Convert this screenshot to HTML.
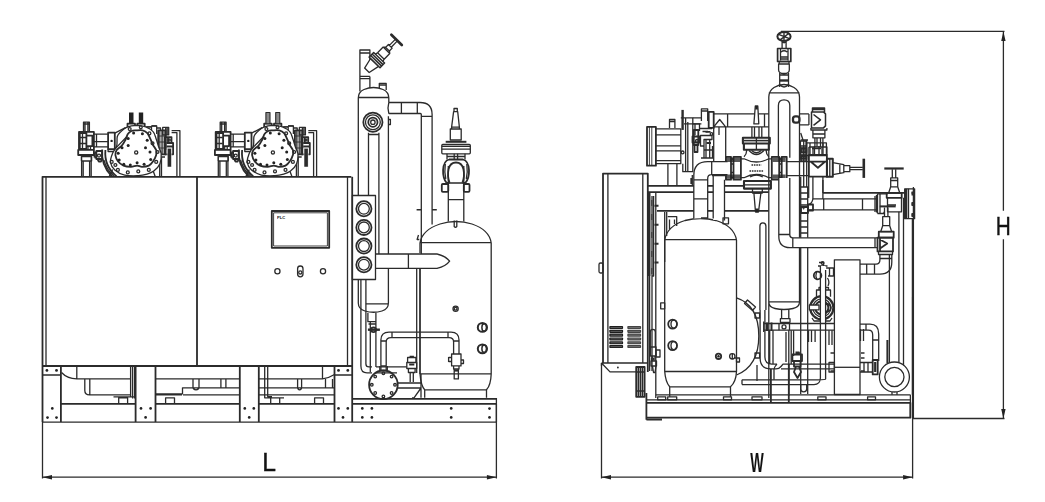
<!DOCTYPE html>
<html><head><meta charset="utf-8"><title>Unit dimensions</title>
<style>
html,body{margin:0;padding:0;background:#fff;}
svg{display:block}
.k{fill:none;stroke:#2b2b2b;stroke-width:1.3;stroke-linecap:butt;stroke-linejoin:round}
.t{stroke-width:1.8}
.h{stroke-width:0.9}
.f{fill:#222;stroke:none}
.w{fill:#fff}
text{font-family:"Liberation Sans",sans-serif;fill:#111}
</style></head><body>
<svg width="1045" height="502" viewBox="0 0 1045 502">
<rect width="1045" height="502" fill="#fff"/>
<g class="k" id="leftview">
<!-- cabinet -->
<path class="t" d="M42.5 422V176.8H351.3"/>
<path d="M46 176.8V366M347.5 176.8V366"/>
<path class="t" d="M197 176.8V366M42.5 366H352"/>
<path class="t" d="M352.2 176.8V422"/>
<!-- HMI -->
<rect x="271.8" y="211" width="57.4" height="36.8" class="t"/>
<rect x="273.6" y="212.8" width="53.8" height="33.2" class="h"/>
<text opacity="0.99" x="277" y="219" font-size="4.2" font-weight="bold" stroke="none" textLength="8.2" lengthAdjust="spacingAndGlyphs">PLC</text>
<circle cx="277.4" cy="271.2" r="2.6"/><circle cx="323" cy="271.2" r="2.6"/>
<rect x="297.6" y="266" width="5.4" height="10.8" rx="2.7"/><circle cx="300.3" cy="272.4" r="1.6"/>
<!-- base frame -->
<path d="M42.5 422.1H496.4"/>
<path class="t" d="M60.9 366V422M60.9 403.8H135.6M135.6 366V422M155.5 366V422M155.5 403.8H239.8M239.8 366V422M258.8 366V422M258.8 403.8H334.5M334.5 366V422"/>
<path d="M42.5 375H60.9M334.5 375H352"/>
<g class="f">
<circle cx="46.9" cy="370.4" r="1.4"/><circle cx="56.5" cy="370.4" r="1.4"/>
<circle cx="52.3" cy="408.4" r="1.35"/><circle cx="47.5" cy="417.6" r="1.35"/><circle cx="56.5" cy="417.6" r="1.35"/>
<circle cx="141" cy="408.4" r="1.35"/><circle cx="150.6" cy="408.4" r="1.35"/><circle cx="145.6" cy="417.4" r="1.35"/>
<circle cx="244.8" cy="408.4" r="1.35"/><circle cx="253.8" cy="408.4" r="1.35"/><circle cx="249.2" cy="417.4" r="1.35"/>
<circle cx="338.5" cy="370.4" r="1.4"/><circle cx="347.8" cy="370.4" r="1.4"/>
<circle cx="338.5" cy="408.4" r="1.35"/><circle cx="347.8" cy="408.4" r="1.35"/><circle cx="343" cy="417.4" r="1.35"/>
<circle cx="362.3" cy="408.4" r="1.35"/><circle cx="371.9" cy="408.4" r="1.35"/><circle cx="362.3" cy="417.4" r="1.35"/><circle cx="371.9" cy="417.4" r="1.35"/>
<circle cx="451.2" cy="408.4" r="1.35"/><circle cx="451.2" cy="417.4" r="1.35"/>
<circle cx="489.5" cy="408.6" r="1.35"/><circle cx="489.5" cy="417.4" r="1.35"/>
</g>
<!-- bay 1 -->
<path d="M61.5 372.5Q67 378.5 76.8 378.9H130.6M76.8 366V378.9M84.8 379.5V390.5Q84.8 394.8 89.5 394.8H130M89.8 379.5V394.8M130.6 366V397M132.6 366V398.5M134.6 366V398.5M113.5 396.8H134.6M118.7 403.4V397.8H127.6V403.4"/>
<!-- bay 2 -->
<path d="M155.5 378.9H239.8M155.5 393.8H182.5V387.8H239.8M155.5 394.8H182M165.6 403.4V397.8H174.5V403.4M193 379.5V387Q193 389.8 196 389.8Q199 389.8 199 387V379.5M220.9 378.9V387.8M225.9 378.9V387.8M183 394.8H239.8"/>
<!-- bay 3 -->
<path d="M258.8 378.9H322.5M258.8 387.8H334.5M258.8 394.8H334.5M264.7 366V397.8H284M267.7 366V396.6H272M297.6 379.5V387Q297.6 389.8 299.6 389.8Q301.6 389.8 301.6 387V379.5M270.7 403.4V397.8H279.7V403.4M314.6 403.4V397.8H323.5V403.4M322.5 366V378.9Q329 378 334.5 374.5M325.5 378.9V387.8M332.5 378.9V387.8"/>
<!-- right rail -->
<path class="t" d="M352.2 398.8H496.4M352.2 403.8H496.4"/>
<path d="M496.4 398V422"/>
<!-- gauge panel -->
<rect x="352.4" y="195.5" width="23.1" height="84"/>
<g id="gauges">
<circle cx="363.9" cy="208.8" r="7.6" class="t"/><circle cx="363.9" cy="208.8" r="5.4"/>
<circle cx="363.9" cy="227.4" r="7.6" class="t"/><circle cx="363.9" cy="227.4" r="5.4"/>
<circle cx="363.9" cy="246.1" r="7.6" class="t"/><circle cx="363.9" cy="246.1" r="5.4"/>
<circle cx="363.9" cy="264.7" r="7.6" class="t"/><circle cx="363.9" cy="264.7" r="5.4"/>
</g>
<!-- oil separator column -->
<path d="M358.3 195.5V98Q358.3 92 364 89.5Q373.5 85.5 383 89.5Q388.8 92 388.8 98V102.5M388.4 116.3V254M388.4 268.3V303Q388.4 309 382 311Q373.5 313.5 365 311Q358.3 309 358.3 303V279.5M358.3 97.5H388.8M365.9 303.8H388.4"/>
<path d="M368.5 132.8V195.5M378.9 132.8V254M368.5 134.5H378.9"/>
<!-- sight glass -->
<circle cx="372.9" cy="122.2" r="9.6" class="t"/><circle cx="372.9" cy="122.2" r="7.4"/><circle cx="372.9" cy="122.2" r="4.6" class="t"/><circle cx="372.9" cy="122.2" r="2.2"/>
<path d="M388.8 119.5h1.6v5h-1.6"/>
<!-- top pipe -->
<path d="M359.9 91.5V50H369.9V66M369.9 76.4V88M359.9 53H369.9M359.9 76.4H369.9M359.9 78.6H369.9M379.3 88V83.4H386.2V90M379.3 85H386.2"/>
<!-- angled valve -->
<g transform="translate(366.9 70.3) rotate(-45.7)">
<path d="M0 -3.2L11 -5.6V5.6L0 3.2Z" class="w"/>
<path d="M11 -7.6H17.5V7.6H11ZM13.2 -7.6V7.6M15.3 -7.6V7.6" class="w" stroke-width="1.5"/>
<path d="M17.5 -5.2L20 -4.6H28L29.5 -2.8V2.8L28 4.6H20L17.5 5.2M20 -4.6V4.6M28 -4.6V4.6M29.5 -2.6H33.5V2.6H29.5M33.5 -1.3H42M33.5 1.3H42"/>
<path d="M42.5 -7.3V7.3" stroke-width="2.7" stroke-linecap="round"/>
</g>
<!-- horizontal pipe + elbow -->
<path d="M388.8 102.5H420Q432.1 102.5 432.1 114.5V224.5M388.8 113.5H420.3Q421.3 113.5 421.3 114.5V254M401.4 102.5V113.5M417.3 102.5V113.5M421.3 116.3H432.1M388.8 102.5Q387.2 108 388.8 113.5"/>
<path d="M416.6 209.8H421.3M432.1 209.8H436.8" stroke-width="1.6"/>
<!-- pointed pipe -->
<path d="M375.5 254H408.4M375.5 268.3H408.4M408.4 254V268.3M408.4 254H437Q446 256 449.6 261.2Q446 266.3 437 268.3H408.4"/>
<!-- receiver tank -->
<path d="M420 253V243Q422 230 440 224Q456 219 472 224Q489.5 230 491.2 243V373.9Q490.8 385 486.5 389.8V397.8M424.7 397.8V389.8Q421 386 420 373.9V268.3M420 242.7H491.2M420 373.9H491.2M424.7 389.8H486.5"/>
<path d="M416.7 268.3V372.9M420 268.3V373.9"/>
<path d="M418.5 235l-1.4 4.5h2.2"/>
<circle cx="455.6" cy="308.8" r="2.6"/><circle cx="455.6" cy="308.8" r="1.4"/>
<ellipse cx="482.4" cy="327.4" rx="4.6" ry="4.4" stroke-width="2"/><ellipse cx="484.2" cy="327.4" rx="2.3" ry="3.7" stroke-width="1.5"/>
<ellipse cx="482.4" cy="348.8" rx="4.6" ry="4.4" stroke-width="2"/><ellipse cx="484.2" cy="348.8" rx="2.3" ry="3.7" stroke-width="1.5"/>
<!-- safety valve on tank -->
<path d="M454 111.6V108.5H457.3V111.6M453.6 111.6H457.7L459.4 127.2H451.6ZM450.3 129H461.2V140H450.3ZM451.6 127.2V129M459.4 127.2V129"/>
<path d="M445.7 141.8H466.4" stroke-width="2"/>
<rect x="441.8" y="144.5" width="28.5" height="9.3" rx="1"/>
<path d="M441.8 149.1H470.3M441.8 146.3H470.3" />
<path d="M447 153.8V159.5M465 153.8V159.5M454.2 153.8V160M457.6 153.8V160M447 156.5H465"/>
<path d="M449 159.5H463Q468.5 161 469 170Q469.3 178 465.5 182.8H462.5M446.5 182.8Q442.8 178 443.1 170Q443.6 161 449 159.5M449.6 182.8Q447 176 448.6 169Q450.2 162.5 456 162.5Q461.8 162.5 463.4 169Q465 176 462.4 182.8M446.5 182.8H449.6" class="t"/>
<path d="M445.3 164Q444.2 172 445.8 179M466.8 164Q467.9 172 466.3 179"/>
<rect x="441.8" y="184" width="6.5" height="7.8" rx="1" class="t"/><rect x="463.8" y="184" width="5.7" height="7.8" rx="1" class="t"/>
<path d="M448.3 166V221.5M463.8 166V221.5M448.3 183H463.8M448.3 199.6H463.8"/>
<path d="M454.2 220.5V226.5Q455.5 228 456.8 226.5V220.5"/>
<!-- lower piping -->
<path d="M360.9 279.5V366Q360.9 372.9 367 372.9H372M365.9 279.5V364Q365.9 366.9 369 366.9H372"/>
<path d="M367.9 312.8V321.7H375.9V312.8M370.3 321.7V372M375.9 321.7V366.9M368.5 324H375.5"/>
<path d="M367.9 329.7H379.9" stroke-width="2.4"/><circle cx="373.5" cy="329.7" r="2.4" class="t"/>
<path d="M380.9 369.9V340Q380.9 332.1 389 332.1H451Q459 332.1 459 340V354M386.2 369.9V342Q386.2 337.7 391 337.7H449Q453.6 337.7 453.6 342V354M392 332.1V337.7M448 332.1V337.7M380.9 341H386.2M453.6 341H459M380.9 366H386.2"/>
<path d="M379.8 366V370.5H387.3V366"/>
<path d="M376 366.9H406.8M376 372.9H397"/>
<!-- filter flange -->
<circle cx="383.4" cy="384.8" r="14.3" class="t"/>
<g><circle cx="383.4" cy="373.2" r="1.3"/><circle cx="391.6" cy="376.6" r="1.3"/><circle cx="395.0" cy="384.8" r="1.3"/><circle cx="391.6" cy="393.0" r="1.3"/><circle cx="383.4" cy="396.4" r="1.3"/><circle cx="375.2" cy="393.0" r="1.3"/><circle cx="371.8" cy="384.8" r="1.3"/><circle cx="375.2" cy="376.6" r="1.3"/></g>
<path d="M397.6 383H421V388L414 397.8H412M397.6 388H421M421 373.9V397.8"/>
<!-- solenoid valve -->
<path d="M407.6 357.5H415.9V362.5H407.6ZM406.8 362.5H416.7V368.5H406.8ZM408.4 368.5V372.5H415.1V368.5M410.2 372.5V381.9M413.3 372.5V381.9M409.6 356.3H413.9"/>
<path d="M409.2 364.5H414.3" stroke-width="2"/>
<!-- right leg valve -->
<path d="M451.6 354H461V365.9H451.6ZM448.6 357.5H451.6M448.6 361.5H451.6M448.6 357V362M461 360H463.5V363.5H461M453.6 365.9V369H459V365.9M454.2 369V378.9H458.4V369"/>
<path d="M454 370.5H458.6" stroke-width="2.2"/>
<!--COMP-START-->
<g id="comp">
<!-- big flange arcs lower-left -->
<path d="M102.2 149.5A33.6 33.6 0 0 0 111.9 176.4M105.4 150A30.4 30.4 0 0 0 116.6 176.4" class="t"/>
<path d="M103.9 160A31.9 31.9 0 0 0 114.2 176.4"/>
<!-- feet -->
<path d="M112.6 169.5L109.3 176.4M153.1 170.8L155.2 176.4"/>
<!-- top studs -->
<path d="M127.5 123.7H135V127H127.5ZM137.3 123.7H144.7V127H137.3Z" class="t"/>
<!-- left suction valve assembly -->
<path d="M83.5 131.9V122.2H89.4V131.9M85 122.2V131.9M87.9 122.2V131.9M83.5 124H89.4"/>
<path d="M79 131.9H93.9V149.8H79ZM78.2 149.8H93.9V155H78.2Z" class="t"/>
<path class="t" d="M86.4 135.6H92.4V146.1H86.4ZM79.8 133H86.4V149H79.8Z"/>
<path d="M80 137.5H86M80 143.5H86M82.5 133V149M88 146.1V149.8M90.5 146.1V149.8"/>
<path d="M81.6 155V176.4M91.2 155V176.4M83.2 161V176.4M89.6 161V176.4M81.4 156.5H91.6V161H81.4Z"/>
<path d="M93.9 134.1H108.1M93.9 146.9H108.1M93.9 141.6H108.1M96.5 134.1V146.9"/>
<path class="t" d="M108.1 132.7H114.8V149.1H108.1Z"/>
<circle cx="111.6" cy="140.9" r="1.2" class="f"/>
<path d="M96.4 151H102V159H96.4ZM97.5 159L98.8 161.5H101L102 159M94.5 152.5H96.4M94.5 157.5H96.4M94.5 152.5V157.5" class="t"/>
<circle cx="99" cy="155.6" r="1.5"/>
<path d="M108.1 149.1V151.5H115.5"/>
<!-- right side fittings -->
<path d="M151.5 125.9H156.7V134M146 126.9H151.5M156.7 128H160.5V131"/>
<path d="M158.2 130.4H165.7V154.3H158.2Z" class="t"/>
<path d="M159.7 131V154M161.2 131V154M162.7 131V154M164.2 131V154M158.2 136H165.7M158.2 142H165.7M158.2 148H165.7" class="h"/>
<path d="M162.7 127.4H168.7V134.9H162.7ZM165.7 127.4V150M167.2 127.4V134.9"/>
<path d="M164.9 137.1H171.5V143H173.1V154.3H164.9ZM166.5 143H171.5M166.5 146.5H173.1M168 137.1V143" class="t"/>
<circle cx="169.3" cy="140" r="1"/>
<path d="M169.4 148.3V167" stroke-width="4"/>
<path d="M167.2 148.3H171.6V167H167.2Z" stroke="#fff" stroke-width="0.5"/>
<path d="M171.6 130.7H179.9V176.4M171.6 132.6H176.9V176.4"/>
<path d="M159.7 154.3V176.4M161.5 157V176.4M158 157H165"/>
<path class="w" d="M137.1 125.4C140.3 125.4 143.0 125.9 145.7 126.9C148.4 127.9 151.4 129.6 153.1 131.6C154.9 133.6 155.3 136.4 156.2 139.0C157.1 141.6 157.9 144.6 158.7 147.0C159.5 149.5 161.0 151.1 161.2 153.8C161.4 156.6 161.2 160.8 159.9 163.7C158.7 166.6 155.9 169.4 153.8 171.1C151.6 172.9 149.5 173.5 147.0 174.2C144.4 175.0 142.0 175.6 138.3 175.7C134.6 175.8 128.6 176.1 124.7 175.1C120.8 174.1 117.2 172.0 114.8 169.9C112.5 167.8 110.9 165.2 110.5 162.5C110.1 159.8 111.3 156.6 112.4 153.8C113.4 151.1 115.9 148.7 116.7 145.8C117.5 142.9 116.6 138.9 117.3 136.5C118.0 134.2 119.5 133.1 121.0 131.6C122.6 130.0 123.9 128.3 126.6 127.3C129.2 126.2 133.9 125.5 137.1 125.4Z"/>
<path class="t" d="M135.8 130.4C137.7 130.3 140.7 129.8 142.6 130.4C144.6 130.9 146.2 131.9 147.6 133.4C148.9 135.0 149.7 137.7 150.7 139.6C151.6 141.6 152.2 143.4 153.1 145.2C154.1 146.9 155.7 148.5 156.2 150.1C156.7 151.8 156.7 153.2 156.2 155.1C155.7 156.9 154.4 159.5 153.1 161.2C151.9 163.0 150.7 164.6 148.8 165.6C147.0 166.5 144.0 166.8 142.0 166.8C140.1 166.8 138.9 165.6 137.1 165.6C135.2 165.6 133.2 166.8 130.9 166.8C128.6 166.8 125.6 166.5 123.5 165.6C121.3 164.6 119.3 163.0 117.9 161.2C116.6 159.5 115.7 156.9 115.4 155.1C115.2 153.2 115.7 151.7 116.7 150.1C117.7 148.6 120.2 147.4 121.6 145.8C123.1 144.2 124.3 142.2 125.3 140.2C126.4 138.3 126.8 135.6 127.8 134.1C128.8 132.5 130.2 131.6 131.5 131.0C132.8 130.4 134.0 130.5 135.8 130.4Z"/>
<g class="f"><circle cx="133.6" cy="133.1" r="1.5"/><circle cx="142.4" cy="133.7" r="1.5"/><circle cx="128.2" cy="138.4" r="1.5"/><circle cx="147.2" cy="140.2" r="1.5"/><circle cx="128.2" cy="145.4" r="1.5"/><circle cx="145.5" cy="147.7" r="1.5"/><circle cx="122.0" cy="147.7" r="1.5"/><circle cx="150.0" cy="152.0" r="1.5"/><circle cx="118.2" cy="153.2" r="1.5"/><circle cx="119.2" cy="160.0" r="1.5"/><circle cx="150.7" cy="159.4" r="1.5"/><circle cx="123.8" cy="164.3" r="1.5"/><circle cx="130.3" cy="165.0" r="1.5"/><circle cx="137.1" cy="162.7" r="1.5"/><circle cx="144.1" cy="164.3" r="1.5"/></g>
<g><circle cx="129.7" cy="129.1" r="1.45"/><circle cx="140.8" cy="127.3" r="1.45"/><circle cx="149.4" cy="133.4" r="1.45"/><circle cx="152.5" cy="143.3" r="1.45"/><circle cx="157.5" cy="152.0" r="1.45"/><circle cx="156.2" cy="161.9" r="1.45"/><circle cx="148.8" cy="169.9" r="1.45"/><circle cx="138.3" cy="171.4" r="1.45"/><circle cx="127.8" cy="172.4" r="1.45"/><circle cx="117.9" cy="169.9" r="1.45"/><circle cx="115.4" cy="165.0" r="1.45"/><circle cx="111.7" cy="161.9" r="1.45"/></g>
<circle cx="136.2" cy="152.4" r="1.6"/>
<path d="M114.8 133.2L125.5 127.6M114.8 149.1L127.2 136.2M147 126.9H151.5V130.5M151.5 126H156.7"/>
</g>
<g transform="translate(136.7 0)">
<!-- big flange arcs lower-left -->
<path d="M102.2 149.5A33.6 33.6 0 0 0 111.9 176.4M105.4 150A30.4 30.4 0 0 0 116.6 176.4" class="t"/>
<path d="M103.9 160A31.9 31.9 0 0 0 114.2 176.4"/>
<!-- feet -->
<path d="M112.6 169.5L109.3 176.4M153.1 170.8L155.2 176.4"/>
<!-- top studs -->
<path d="M127.5 123.7H135V127H127.5ZM137.3 123.7H144.7V127H137.3Z" class="t"/>
<!-- left suction valve assembly -->
<path d="M83.5 131.9V122.2H89.4V131.9M85 122.2V131.9M87.9 122.2V131.9M83.5 124H89.4"/>
<path d="M79 131.9H93.9V149.8H79ZM78.2 149.8H93.9V155H78.2Z" class="t"/>
<path class="t" d="M86.4 135.6H92.4V146.1H86.4ZM79.8 133H86.4V149H79.8Z"/>
<path d="M80 137.5H86M80 143.5H86M82.5 133V149M88 146.1V149.8M90.5 146.1V149.8"/>
<path d="M81.6 155V176.4M91.2 155V176.4M83.2 161V176.4M89.6 161V176.4M81.4 156.5H91.6V161H81.4Z"/>
<path d="M93.9 134.1H108.1M93.9 146.9H108.1M93.9 141.6H108.1M96.5 134.1V146.9"/>
<path class="t" d="M108.1 132.7H114.8V149.1H108.1Z"/>
<circle cx="111.6" cy="140.9" r="1.2" class="f"/>
<path d="M96.4 151H102V159H96.4ZM97.5 159L98.8 161.5H101L102 159M94.5 152.5H96.4M94.5 157.5H96.4M94.5 152.5V157.5" class="t"/>
<circle cx="99" cy="155.6" r="1.5"/>
<path d="M108.1 149.1V151.5H115.5"/>
<!-- right side fittings -->
<path d="M151.5 125.9H156.7V134M146 126.9H151.5M156.7 128H160.5V131"/>
<path d="M158.2 130.4H165.7V154.3H158.2Z" class="t"/>
<path d="M159.7 131V154M161.2 131V154M162.7 131V154M164.2 131V154M158.2 136H165.7M158.2 142H165.7M158.2 148H165.7" class="h"/>
<path d="M162.7 127.4H168.7V134.9H162.7ZM165.7 127.4V150M167.2 127.4V134.9"/>
<path d="M164.9 137.1H171.5V143H173.1V154.3H164.9ZM166.5 143H171.5M166.5 146.5H173.1M168 137.1V143" class="t"/>
<circle cx="169.3" cy="140" r="1"/>
<path d="M169.4 148.3V167" stroke-width="4"/>
<path d="M167.2 148.3H171.6V167H167.2Z" stroke="#fff" stroke-width="0.5"/>
<path d="M171.6 130.7H179.9V176.4M171.6 132.6H176.9V176.4"/>
<path d="M159.7 154.3V176.4M161.5 157V176.4M158 157H165"/>
<path class="w" d="M137.1 125.4C140.3 125.4 143.0 125.9 145.7 126.9C148.4 127.9 151.4 129.6 153.1 131.6C154.9 133.6 155.3 136.4 156.2 139.0C157.1 141.6 157.9 144.6 158.7 147.0C159.5 149.5 161.0 151.1 161.2 153.8C161.4 156.6 161.2 160.8 159.9 163.7C158.7 166.6 155.9 169.4 153.8 171.1C151.6 172.9 149.5 173.5 147.0 174.2C144.4 175.0 142.0 175.6 138.3 175.7C134.6 175.8 128.6 176.1 124.7 175.1C120.8 174.1 117.2 172.0 114.8 169.9C112.5 167.8 110.9 165.2 110.5 162.5C110.1 159.8 111.3 156.6 112.4 153.8C113.4 151.1 115.9 148.7 116.7 145.8C117.5 142.9 116.6 138.9 117.3 136.5C118.0 134.2 119.5 133.1 121.0 131.6C122.6 130.0 123.9 128.3 126.6 127.3C129.2 126.2 133.9 125.5 137.1 125.4Z"/>
<path class="t" d="M135.8 130.4C137.7 130.3 140.7 129.8 142.6 130.4C144.6 130.9 146.2 131.9 147.6 133.4C148.9 135.0 149.7 137.7 150.7 139.6C151.6 141.6 152.2 143.4 153.1 145.2C154.1 146.9 155.7 148.5 156.2 150.1C156.7 151.8 156.7 153.2 156.2 155.1C155.7 156.9 154.4 159.5 153.1 161.2C151.9 163.0 150.7 164.6 148.8 165.6C147.0 166.5 144.0 166.8 142.0 166.8C140.1 166.8 138.9 165.6 137.1 165.6C135.2 165.6 133.2 166.8 130.9 166.8C128.6 166.8 125.6 166.5 123.5 165.6C121.3 164.6 119.3 163.0 117.9 161.2C116.6 159.5 115.7 156.9 115.4 155.1C115.2 153.2 115.7 151.7 116.7 150.1C117.7 148.6 120.2 147.4 121.6 145.8C123.1 144.2 124.3 142.2 125.3 140.2C126.4 138.3 126.8 135.6 127.8 134.1C128.8 132.5 130.2 131.6 131.5 131.0C132.8 130.4 134.0 130.5 135.8 130.4Z"/>
<g class="f"><circle cx="133.6" cy="133.1" r="1.5"/><circle cx="142.4" cy="133.7" r="1.5"/><circle cx="128.2" cy="138.4" r="1.5"/><circle cx="147.2" cy="140.2" r="1.5"/><circle cx="128.2" cy="145.4" r="1.5"/><circle cx="145.5" cy="147.7" r="1.5"/><circle cx="122.0" cy="147.7" r="1.5"/><circle cx="150.0" cy="152.0" r="1.5"/><circle cx="118.2" cy="153.2" r="1.5"/><circle cx="119.2" cy="160.0" r="1.5"/><circle cx="150.7" cy="159.4" r="1.5"/><circle cx="123.8" cy="164.3" r="1.5"/><circle cx="130.3" cy="165.0" r="1.5"/><circle cx="137.1" cy="162.7" r="1.5"/><circle cx="144.1" cy="164.3" r="1.5"/></g>
<g><circle cx="129.7" cy="129.1" r="1.45"/><circle cx="140.8" cy="127.3" r="1.45"/><circle cx="149.4" cy="133.4" r="1.45"/><circle cx="152.5" cy="143.3" r="1.45"/><circle cx="157.5" cy="152.0" r="1.45"/><circle cx="156.2" cy="161.9" r="1.45"/><circle cx="148.8" cy="169.9" r="1.45"/><circle cx="138.3" cy="171.4" r="1.45"/><circle cx="127.8" cy="172.4" r="1.45"/><circle cx="117.9" cy="169.9" r="1.45"/><circle cx="115.4" cy="165.0" r="1.45"/><circle cx="111.7" cy="161.9" r="1.45"/></g>
<circle cx="136.2" cy="152.4" r="1.6"/>
<path d="M114.8 133.2L125.5 127.6M114.8 149.1L127.2 136.2M147 126.9H151.5V130.5M151.5 126H156.7"/>
</g>
<path class="f" d="M129 112.5H133.5V123.7H129ZM138.8 112.5H143.2V123.7H138.8Z"/>
<path d="M265.9 112.5H270V123.7H265.9ZM275.7 112.5H279.8V123.7H275.7Z" fill="#8a8a8a" stroke-width="1.1"/>
<!--COMP-END-->
</g>
<g class="k" id="rightview">
<!-- control cabinet side -->
<path class="t" d="M603 363V173.6H647.8V371.9"/>
<path d="M607.9 173.6V363M642.8 173.6V363M601.5 363H647.8M601.5 363L610 371.9H636M601.5 363V366"/>
<rect x="599" y="263" width="4" height="10" rx="1.5"/>
<circle cx="617.9" cy="367.5" r="0.9" class="f"/>
<rect x="609.3" y="326.0" width="13.8" height="3.1" rx="0.8" fill="#1e1e1e" stroke="none"/><rect x="627.3" y="326.0" width="13.8" height="3.1" rx="0.8" fill="#444" stroke="none"/><rect x="609.3" y="329.8" width="13.8" height="3.1" rx="0.8" fill="#1e1e1e" stroke="none"/><rect x="627.3" y="329.8" width="13.8" height="3.1" rx="0.8" fill="#444" stroke="none"/><rect x="609.3" y="333.6" width="13.8" height="3.1" rx="0.8" fill="#1e1e1e" stroke="none"/><rect x="627.3" y="333.6" width="13.8" height="3.1" rx="0.8" fill="#444" stroke="none"/><rect x="609.3" y="337.4" width="13.8" height="3.1" rx="0.8" fill="#1e1e1e" stroke="none"/><rect x="627.3" y="337.4" width="13.8" height="3.1" rx="0.8" fill="#444" stroke="none"/><rect x="609.3" y="341.2" width="13.8" height="3.1" rx="0.8" fill="#1e1e1e" stroke="none"/><rect x="627.3" y="341.2" width="13.8" height="3.1" rx="0.8" fill="#444" stroke="none"/><rect x="609.3" y="345.0" width="13.8" height="3.1" rx="0.8" fill="#1e1e1e" stroke="none"/><rect x="627.3" y="345.0" width="13.8" height="3.1" rx="0.8" fill="#444" stroke="none"/>
<path stroke="#999" stroke-width="0.5" d="M610.5 327.6H622M628.5 327.6H640M610.5 331.4H622M628.5 331.4H640M610.5 335.2H622M628.5 335.2H640M610.5 338.9H622M628.5 338.9H640M610.5 342.8H622M628.5 342.8H640M610.5 346.6H622M628.5 346.6H640"/>
<!-- hinge column -->
<path d="M649.2 192.9V276" stroke-width="2.6"/>
<path d="M649.6 276V371M652 196V371M655.8 192.9V398M653.6 196V276H652" />
<path class="h" d="M651.8 200v6M651.8 214v6M651.8 232v6M651.8 251v6M651.8 268v6"/>
<path d="M654.5 205.8h4M654.5 224.8h4M654.5 243.7h4M654.5 262.6h4" stroke-width="2"/>
<path d="M650.3 347V332Q650.3 329.3 652.8 329.3Q655.3 329.3 655.3 332V347"/>
<path d="M650.5 347H656V356H650.5ZM652 356V361M655 356V361M651 361H656.5V366H651ZM652.5 366L653.5 372.5H655L656 366" />
<circle cx="652.6" cy="359" r="1.2"/>
<path d="M656 350h4v7h-4z"/>
<!-- wheel flange bottom-left -->
<path d="M636.2 367H644.6V396.8H636.2Z" class="t"/>
<path d="M638.3 367V396.8M640.4 367V396.8M642.5 367V396.8" stroke-width="1.6"/><path d="M636.2 372H644.6M636.2 391H644.6"/>
<!-- base -->
<path class="t" d="M646.4 393V419.7M646.4 402.8H910.4V417.7H646.4M646.4 419.7H662"/>
<path d="M646.4 399.8H910.4M655.8 394.8H910.4M913.4 187V419M910.4 394.8V417.7"/>
<path d="M657.7 396.8H665.7V399.8H657.7ZM667.7 396.8H676.7V399.8H667.7ZM723.5 396.8H731.5V399.8H723.5ZM752 396.8H762V399.8H752ZM817.8 396.8H826V399.8H817.8ZM867.6 396.8H875.5V399.8H867.6Z"/>
<!-- frame beams -->
<path class="t" d="M647.8 185.9H744M647.8 192.2H768.8M823 192.9H905M657 210.8H768.8"/>
<!-- receiver tank -->
<path d="M664.7 262V240Q667 226 685 220.5Q700.5 216.5 716 220.5Q734 226 736.5 240V371.5Q736 382 730.5 386.8V396.8M669.7 396.8V386.8Q665.5 382 664.7 371.5V262M664.7 239.7H736.5M664.7 371.5H736.5M669.7 386.8H730.5"/>
<path d="M664.7 212V262M666.7 212V236"/>
<path d="M667.7 216.6H676.7V226M669.5 219.5V229M674.5 219.5V224"/>
<rect x="660.7" y="302.8" width="4" height="6"/>
<ellipse cx="672.6" cy="324.1" rx="4.4" ry="4.5" class="t"/><ellipse cx="673.9" cy="324.1" rx="2.9" ry="4"/>
<ellipse cx="672.6" cy="345.6" rx="4.4" ry="4.5" class="t"/><ellipse cx="673.9" cy="345.6" rx="2.9" ry="4"/>
<circle cx="718.5" cy="356.3" r="2.7" class="t"/><circle cx="718.5" cy="356.3" r="1.2" class="f"/>
<circle cx="732.3" cy="356.3" r="2.7"/><path d="M732.3 353.6V359M735 358H739.5V362H736.5V358"/>
<!-- horizontal vessel end arc -->
<path d="M736.5 297.8Q758.8 305 758.8 336Q758.8 366 736.5 375"/>
<path d="M755 313h4.6v5H755zM755 353h4.6v5H755zM757 365V381"/>
<path d="M744.5 303.5l3-3.5 8 7-3 3.5z"/>
<!-- tall vessel -->
<path d="M768.8 398V97Q768.8 91 774 87.5Q784 81.5 794 87.5Q799.5 91 799.5 97V302Q799.5 307 793 308.5Q784 310.5 775 308.5Q768.8 307 768.8 302M768.8 92.8H799.5M768.8 301.8H799.5" class="w"/>
<path d="M778.4 157.7V105.5Q778.4 99.8 784 99.8Q789.8 99.8 789.8 105.5V157.7"/>
<!-- top hand valve -->
<ellipse cx="784" cy="36.5" rx="6.6" ry="4.5" stroke-width="2"/>
<path d="M778.6 34.3L789.4 38.7M784 32V41M780.4 39.6L788.4 33.8" stroke-width="1.4"/>
<path d="M782.1 40.7V47.9M786.1 40.7V47.9M782.6 41.5Q784 44 785.6 41.5"/>
<path d="M777.6 48.5H790.8V61.5H777.6Z" stroke-width="1.7"/>
<path d="M780.5 49V60.5M788 49V60.5M781 52Q784 49.5 787.2 52M780.5 57H788M780.5 59H788"/>
<path d="M779.2 61.5H789V64H779.2ZM778.6 64H789.3V70Q789.3 73.5 784 73.5Q778.6 73.5 778.6 70ZM779.7 73V87M788.5 73V87M779.7 75H788.5M779.7 84.5Q784 89.5 788.5 84.5"/>
<path d="M780 80.5H788.2" stroke-width="2.4"/>
<!-- top horizontal pipe left of vessel -->
<path d="M713.7 113.9H768.8M713.7 126.9H768.8M727.6 113.9V126.9M764.5 113.9V126.9M713.7 126.9L719.7 119.5L725.6 126.9"/>
<path d="M708.7 111.9H713.7V127.9H708.7Z" class="t"/>
<path d="M701.4 120.9V108.9H707.7V120.9M701.4 111H707.7"/>
<!-- relief cone on pipe -->
<path d="M755.3 106H757.8L758.8 123.9H753.9Z" class="w"/>
<path d="M755.3 106H757.8V109.5H755.3Z" class="f"/>
<path d="M751.9 126.9V137.8M761.8 126.9V137.8M754.5 126.9V137.8M759 126.9V137.8"/>
<!-- big valve -->
<path stroke-width="2.1" d="M742.9 137.8H769.8V143.5H742.9ZM743.9 143.5H768.8V149.8H743.9Z"/>
<path d="M744 140.6H768.8" stroke-width="1.6"/>
<path d="M756.4 137.8V149.8M746.5 149.8Q747 154 744 156.8M766.3 149.8Q765.8 154 768.8 156.8M749 150.5Q756.4 158.5 763.8 150.5M751.5 150.5Q756.4 155 761.3 150.5"/>
<path class="t" d="M726 156.8H731V179.7H726ZM733.5 156.8H740.9V179.7H733.5ZM771.8 156.8H779.2V179.7H771.8ZM781.7 156.8H786.7V179.7H781.7Z"/>
<path d="M731 159H733.5M731 177.5H733.5M779.2 159H781.7M779.2 177.5H781.7M731 164H733.5M731 172.5H733.5M779.2 164H781.7M779.2 172.5H781.7"/>
<path d="M740.9 158.8H744Q750 162 756.4 162Q762.8 162 768.8 158.8H771.8M740.9 177.7H744Q750 174.5 756.4 174.5Q762.8 174.5 768.8 177.7H771.8"/>
<path class="f" d="M727 157.6h13v4.4h-13zM727 174.4h13v4.4h-13zM772.6 157.6h13v4.4h-13zM772.6 174.4h13v4.4h-13z" fill-opacity="0.75"/>
<path d="M751.5 165H761.3M749.5 171H763.3" stroke-width="1.7" stroke-dasharray="1.6 0.8"/>
<path stroke-width="2.1" d="M744 181H770.9V188.6H744Z"/>
<path d="M744 184.8H770.9M750 177Q756.4 173 762.8 177"/>
<path d="M753.9 193H760.9L758.5 211.9H755.5Z" class="w"/>
<path d="M755.5 208.5H758.5V212.5H755.5Z" class="f"/>
<path d="M752.5 188.6V193H762.3V188.6"/>
<!-- pipe from big valve to the right -->
<path d="M786.7 161.7H808.9M786.7 175.7H808.9"/>
<!-- slot -->
<path d="M759.9 310V226Q759.9 222.8 762.9 222.8Q765.9 222.8 765.9 226V310"/>
<!-- big pipe + elbow -->
<path d="M778.8 178V236Q778.8 247.7 790 247.7H877.5V237.8H792.8Q789.8 237.8 789.8 235V178Z" fill="#fff" stroke="none"/>
<path d="M778.8 178V236Q778.8 247.7 790 247.7H877.5M789.8 178V235Q789.8 237.8 792.8 237.8H877.5M792.8 237.8V247.7M875 237.8V247.7M778.8 234.5H789.8"/>
<!-- motor / flange upper-left -->
<path d="M647 126.9H655.9V165.7H647Z" class="t"/>
<path class="h" d="M649.4 126.9V165.7M651.8 126.9V165.7"/>
<path d="M655.9 128.9H680.8V163.7H655.9M655.9 134.8H680.8M655.9 145.8H680.8M655.9 150.8H680.8M655.9 160.7H680.8"/>
<path d="M669.5 127.9V119.5H674.9V127.9M669.5 121.5H674.9"/>
<path d="M682.6 109.9V129.9" stroke-width="2.4"/>
<path d="M680.8 117.9H692.8V171.7H682.8V163.7M685.6 117.9V171.7M687.8 122V171.7M684 123.9H700"/>
<circle cx="682.6" cy="152.4" r="1.4"/>
<path d="M667.9 163.7V185.9M676.9 163.7V185.9"/>
<!-- valve cluster -->
<path d="M692.8 117.9H701.4M692.8 123.9H701.4M695 123.9V135M699.5 123.9V131"/>
<path d="M693.8 130H698.3V145H693.8ZM694.5 145V152H697.5V145M692.5 136.5H699.5V142.5H692.5Z" class="t"/>
<path d="M700 128.5H712M702.5 131.5H708M700.5 135.5H712V139.5H704V146H700.5ZM706 139.5V158M709.7 139.5V158M704 146V158H712.5V146M704.5 150H712M701 158H713.7"/>
<path d="M705.5 131.8h5M706.5 143h4.5" stroke-width="1.8"/>
<circle cx="711.5" cy="134" r="1.3"/><circle cx="697" cy="141" r="1.5"/>
<path d="M713.7 126.9V161.7M725.7 126.9V161.7M719 126.9V135"/>
<!-- elbow into receiver tank -->
<path d="M693.8 218.5V175.5Q693.8 161.7 707.7 161.7H727.6V174.7H711.7Q707.7 174.7 707.7 178.5V218Z" fill="#fff" stroke="none"/>
<path d="M693.8 218.5V175.5Q693.8 161.7 707.7 161.7H727.6M707.7 218V178.5Q707.7 174.7 711.7 174.7H727.6M711.7 161.7V174.7M693.8 179.9H707.7M693.8 198.9H707.7"/>
<path d="M692.3 175V186M691 178V184"/>
<!-- second vertical pipe to tank -->
<path d="M713.2 175.7H724.5V220H713.2Z" fill="#fff" stroke="none"/>
<path d="M713.2 175V218.5M724.5 179.7V220.5M712 175.7H726V179.7M723 217.8H728.5V223.8H723ZM701 218H708"/>
<!-- nozzle & check valve right of vessel -->
<rect x="793" y="116.4" width="6.4" height="6.2" rx="2.4" stroke-width="2.3" class="w"/>
<path d="M799.8 113.9H808.9M799.8 124.9H808.9"/>
<path d="M811.5 111.9H823.5L825.5 113.9V125.9L823.5 127.9H811.5ZM812.5 107.9H824.5V111.9H812.5ZM812.5 109.6H824.5M813.5 114.5L820.5 119.9L813.5 125.3" stroke-width="1.5"/>
<path d="M808.9 113.9V124.9"/>
<path d="M810.9 127.9V130H826.9V127.9M812.9 130V137.8H824.9V130M814.9 137.8V147H822.9V137.8M817 137.8V147M820.5 137.8V147M812.9 134H824.9M808.9 147H826.9V154.8M808.9 147V154.8M813 147V154.8M822 147V154.8"/>
<!-- fittings column between vessel and valve -->
<path d="M800.7 133L803 140H808M800.7 140H806.7V187M803.7 140V187M800.7 146H806.7M800.7 152H806.7M800.7 158H806.7" />
<path d="M801 148.5h5.4v4h-5.4zM801 155.5h5.4v3.4h-5.4z" class="t"/>
<path d="M800.2 141h6v7h-6zM800.2 150h6v5h-6zM801 156.5h5.4v4.5H801z" stroke-width="1.7"/>
<path d="M806.6 142.9H826.4V155.5H806.6ZM810 142.9V155.5M814.5 146V155.5M819 146V155.5M823 142.9V155.5M812 148.5h9" />
<!-- valve body w/ triangle + handwheel -->
<path d="M808.9 154.8H826.9V176.7H808.9ZM810.9 161.7L817.9 167.7L824.9 161.7M808.9 161.7H826.9" class="t"/>
<path d="M826.9 158.7H832.8V176.7H826.9Z" stroke-width="2"/>
<path d="M829.8 158.7V176.7"/>
<path d="M832.8 162.7L843.8 164.7V172.7L832.8 174.7M843.8 165.7H849.8V171.7H843.8M839.8 164V173.4M849.8 167.3H862.8M849.8 169.7H862.8"/>
<path d="M863.8 158.7V177.9" stroke-width="2.6"/>
<!-- pipes below valve body -->
<path d="M800.7 176.7V187M808.7 176.7V198M812.9 176.7V198.9M822.9 176.7V198.9"/>
<!-- stacked fittings column lower -->
<path d="M800.7 187H807.7V237.8M800.7 187V237.8M800.7 247.7V394M807.7 247.7V394M800.7 193H807.7M800.7 199H807.7M800.7 205H807.7M800.7 213H807.7M800.7 221H807.7M800.7 227H807.7M800.7 233H807.7" />
<path d="M801 207h7v6h-7z" class="t"/>
<path d="M808 204.5h5v6h-5z" class="t"/>
<path d="M803.6 209.5v-3M802.4 208h2.4" class="h"/>
<!-- horizontal pipe y 199-210 -->
<path d="M812.9 198.9H877.5M808 209.8H877.5M823.7 198.9V209.8M862.5 198.9V209.8M875 196V212" />
<path d="M876.8 195V212.5" stroke-width="2"/>
<path d="M812.9 198.9Q812 204 808.5 204.5"/>
<!-- pipe elbow from above into y199 pipe -->
<path d="M822.9 180V192.9"/>
<!-- valve 2 (vertical, handwheel top) -->
<path d="M884.3 168.5H903.7" stroke-width="2.2"/>
<path d="M892.3 169.3V177.9M895.7 169.3V177.9M890.7 177.9H897.7V186.8H890.7ZM890.7 180.5H897.7M890.7 186.8L888.7 192.8H899.7L897.7 186.8"/>
<path d="M886.7 192.8H901.7V197.8H886.7Z" class="t"/>
<path d="M887.5 197.8V211.8H901.5V197.8M877.5 193.8H887.5M877.5 213.5H884V211.8M877.5 193.8V213.5M880 193.8V213.5M887.5 205H896"/>
<!-- valve 3 (smaller) -->
<path d="M879.8 206.4H895.7" stroke-width="2"/>
<path d="M884.5 207.4V216.7M887.9 207.4V216.7M882.7 216.7H889.7V225.7H882.7ZM882.7 225.7L880.7 231.7H891.7L889.7 225.7"/>
<path d="M878.8 231.7H893.7V237.7H878.8Z" class="t"/>
<!-- check valve on big pipe -->
<path d="M877.5 237.7H893V251.4H877.5ZM880 239.5L887.2 243.5L880 248.5M880 237.7V251.4" class="t"/>
<path d="M878.5 251.4V254.5H892.5V251.4"/>
<path d="M879.9 254.5V260Q879.9 264.1 876 264.1H859.6M891.8 254.5V262Q891.8 274.1 880 274.1H859.6M866.7 264.1V274.1M874.5 264.1V274.1M879.9 258.5H891.8"/>
<!-- panel right -->
<path d="M904.7 188.8H914.6V218.7H904.7Z"/>
<path d="M906 188.8V218.7" stroke-width="2.6"/>
<path d="M908.5 188.8V218.7M911.5 193h3M911.5 204h3M911.5 215h3" />
<path d="M912.5 191.5v4M912.5 202v4M912.5 213v4" stroke-width="2"/>
<!-- HX -->
<path d="M834.4 259.8H860V394.5H834.4Z" class="w"/>
<path d="M834.4 367.3H860"/>
<!-- right verticals -->
<path d="M889.4 254.5V363M898.9 211.8V363M903.5 197.8V366M912.4 218.7V394.8"/>
<path d="M887.4 340V363" stroke-width="2"/>
<!-- pipe end circle -->
<circle cx="894.4" cy="377" r="15" class="w"/><circle cx="894.4" cy="377" r="9.6"/>
<path d="M892 392V394.8M897 392V394.8"/>
<!-- thin vertical pipe + top fitting -->
<path d="M820.4 378Q820.1 384.6 814 384.6H742M825.6 379Q825.6 379.8 818 379.8H745M742 379.8V384.6M745 379.8H742"/>
<path d="M818 266H827.5M819 262.5H823.5V266M826.1 268H833.5V276H828M829.5 268V276M816.5 272Q815 276 817 280M827.5 278Q830 282 828 286" />
<circle cx="822.6" cy="263" r="1.4"/>
<!-- pump -->
<circle cx="821.8" cy="307.8" r="11.6" stroke-width="2.2" class="w"/>
<circle cx="821.8" cy="307.8" r="9"/><circle cx="821.8" cy="307.8" r="6.6" stroke-width="2"/><circle cx="827" cy="307.8" r="3.8" stroke-width="1.8"/>
<path d="M809.4 305H819V309.8H809.4Z" class="w"/>
<path d="M816.5 296.8V290H830.5V296.8M819 290V287.5H828.5V290M812 318L814 321H830L832 318"/>
<path d="M820.4 266V378H825.6V266Z" fill="#fff" stroke="none"/>
<path d="M820.4 266V378M825.6 270V379" />
<circle cx="817.6" cy="275.5" r="3.8" class="t"/>
<!-- small vessel drain + horizontal line -->
<path d="M781.6 309.5V318.7H788.8V309.5M780.4 318.7H790V322.3H780.4Z"/>
<path d="M763.7 323.5H834.4M763.7 330.2H834.4M763.7 321.5V332" />
<path d="M767 322.5V331M771.5 322.5V331" stroke-width="2"/>
<circle cx="784" cy="326.9" r="2"/><path d="M779 323.5V330.2M789.5 323.5V330.2"/>
<!-- box under -->
<path d="M769.7 330.2V364M788.8 330.2V396M773 330.2V364M786 332V362M791.2 330.2V364M793.6 330.2V356"/>
<path d="M811.5 330.2V342M815.1 330.2V342M808.5 330.2V342M829 330.2V345M832 330.2V345"/>
<!-- U pipe lower -->
<path d="M760.1 310V358Q760.1 368.9 771 368.9H776Q779 368.9 781 366.5L783 364.1H834.4M764.9 310V357Q764.9 364.1 772 364.1H777M777 364.1Q775 366 774 368.9V379.8M781 368.9H834.4"/>
<!-- solenoid -->
<path d="M792.4 354.5H802V361H792.4ZM794 361V366.5H800.5V361M795.5 352.5H799V354.5M796 366.5L794 372L797.5 378L801 372L799 366.5" class="t"/>
<!-- small U bottom -->
<path d="M800.7 384.6V389Q800.7 391.8 803.7 391.8Q806.7 391.8 806.7 389V384.6"/>
<!-- dark column -->
<path d="M770.9 368.9V402.4M788.8 364V402.4" class="t"/>
<!-- elbow pipe right of HX lower -->
<path d="M860 324.2H870Q878.7 324.2 878.7 334V361M860 330.2H868.5Q872.7 330.2 872.7 335V361M866 324.2V330.2M872.7 340H878.7"/>
<path d="M860 362.5H872.7M860 372H872.7M864 362.5V372M868 362.5V372"/>
<path d="M872.7 360H877.7V374.4H872.7Z" stroke-width="1.8"/>
<path d="M875.2 362v10" stroke-width="2.2"/>
<path d="M860.5 329V341M863.5 329V341M861 353h3.5M861 358h3.5M830.5 353h3.5M830.5 371h3.5M861 371h3.5"/>
<path d="M829 362.5h5.4v9.5H829z"/>
</g>
<g class="k" stroke-width="1" id="dims">
<!-- L -->
<path d="M42.5 422V478.5M496.4 404V478.5M42.5 477.2H496.4"/>
<path class="f" d="M42.5 477.2l9.5-2.2v4.4zM496.4 477.2l-9.5-2.2v4.4z"/>
<!-- W -->
<path d="M601.5 363V478.5M912.6 297V478.5M601.5 477.2H912.6"/>
<path class="f" d="M601.5 477.2l9.5-2.2v4.4zM912.6 477.2l-9.5-2.2v4.4z"/>
<!-- H -->
<path d="M781 31.4H1004.5M913 418.5H1004.5M1003.4 31.4V210.7M1003.4 239.3V418.5"/>
<path class="f" d="M1003.4 31.4l-2.2 9.5h4.4zM1003.4 418.5l-2.2-9.5h4.4z"/>
</g>
<g font-size="26" text-anchor="middle" stroke="#111" stroke-width="0.4" opacity="0.99">
<text transform="translate(269.2 471.1) scale(0.95 1)" id="tL">L</text>
<text transform="translate(757 471.6) scale(0.55 1.03)" font-weight="bold" stroke="none" id="tW">W</text>
<text transform="translate(1003.2 234.5) scale(0.8 1)" id="tH">H</text>
</g>
</svg>
</body></html>
